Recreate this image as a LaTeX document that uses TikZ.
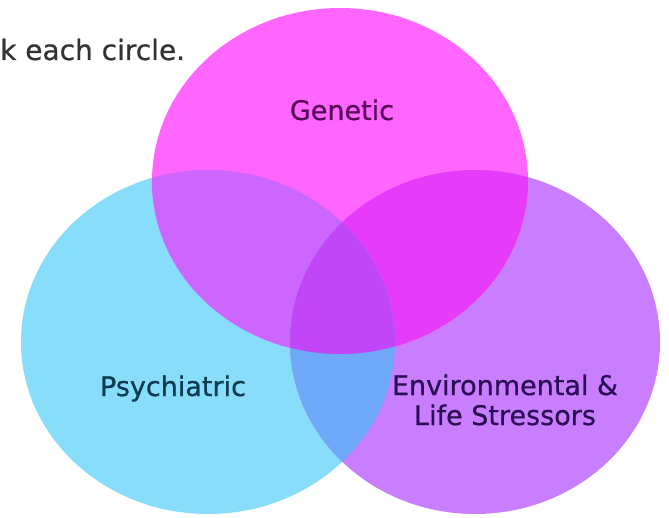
\documentclass[tikz,border=0pt]{standalone}
\usepackage{fontspec}
\setmainfont[FakeBold=0.7]{DejaVu Sans}
\usetikzlibrary{positioning}
\definecolor{genpink}{HTML}{FF66FF}
\definecolor{psyblue}{HTML}{88DDFA}
\definecolor{envviolet}{HTML}{C87EFF}
\definecolor{genpsy}{HTML}{CD66FF}
\definecolor{genenv}{HTML}{E63CFA}
\definecolor{psyenv}{HTML}{70A8F8}
\definecolor{allthree}{HTML}{C046F8}
\tikzset{font=\fontsize{27}{30}\selectfont}
\tikzset{setname/.style={anchor=base,inner sep=0pt}}
\def\genpath{(340,181) ellipse [x radius=188, y radius=173]}
\def\psypath{(208,342) ellipse [x radius=187, y radius=172]}
\def\envpath{(475,342) ellipse [x radius=185, y radius=172]}

\begin{document}
\begin{tikzpicture}[x=1pt,y=-1pt]
  \useasboundingbox (0,0) rectangle (669,518);
  \fill[psyblue] \psypath;
  \fill[envviolet] \envpath;
  \fill[genpink] \genpath;
  % pairwise overlaps
  \begin{scope}
    \clip \genpath;
    \fill[genpsy] \psypath;
    \fill[genenv] \envpath;
  \end{scope}
  \begin{scope}
    \clip \psypath;
    \fill[psyenv] \envpath;
    \clip \envpath;
    \fill[allthree] \genpath;
  \end{scope}
\node[setname, anchor=base west, font=\fontsize{28}{30}\selectfont, text=black!80] (hint) at (0,60) {k each circle.};
\node[setname, text={rgb,255:red,90;green,10;blue,90}] (genetic) at (342,120) {Genetic};
\node[setname, text={rgb,255:red,13;green,59;blue,79}] (psychiatric) at (173,396) {Psychiatric};
\node[setname, text={rgb,255:red,43;green,15;blue,85}] (environ) at (505,395) {Environmental \&};
\node[setname, text={rgb,255:red,43;green,15;blue,85}] (stressors) at ([yshift=-30pt]environ.base) {Life Stressors};
\end{tikzpicture}
\end{document}
